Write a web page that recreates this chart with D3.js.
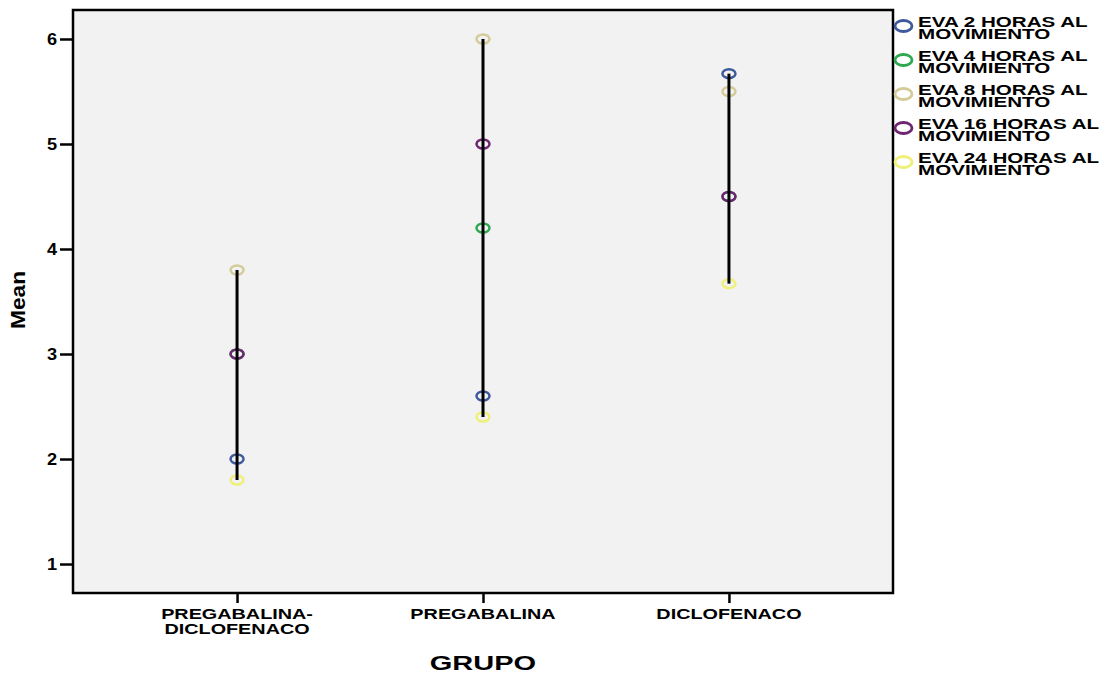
<!DOCTYPE html>
<html>
<head>
<meta charset="utf-8">
<script src="https://cdn.jsdelivr.net/npm/d3@7"></script>
<style>
  body { margin: 0; background: #fff; }
  text { font-family: "Liberation Sans", Arial, sans-serif; font-weight: bold; fill: #000; }
</style>
</head>
<body>
<svg id="chart" width="1114" height="677"></svg>
<script>
// groups on the x axis (label lines)
const categories = ['PREGABALINA-DICLOFENACO', 'PREGABALINA', 'DICLOFENACO']
const categoryLines = [['PREGABALINA-', 'DICLOFENACO'], ['PREGABALINA'], ['DICLOFENACO']]

// series (means per group)
const seriesNames = ['EVA 2 HORAS AL MOVIMIENTO', 'EVA 4 HORAS AL MOVIMIENTO', 'EVA 8 HORAS AL MOVIMIENTO', 'EVA 16 HORAS AL MOVIMIENTO', 'EVA 24 HORAS AL MOVIMIENTO']
const eva2 = [2.0, 2.6, 5.67]
const eva4 = [3.0, 4.2, 4.5]
const eva8 = [3.8, 6.0, 5.5]
const eva16 = [3.0, 5.0, 4.5]
const eva24 = [1.8, 2.4, 3.67]
const seriesColors = ['#3d5a9c', '#2fa84f', '#d3cb98', '#6e2673', '#eef078']

const yTicks = [1, 2, 3, 4, 5, 6]

const allSeries = [eva2, eva4, eva8, eva16, eva24]

const svg = d3.select('#chart')
const plotLeft = 73, plotRight = 893, plotTop = 10, plotBottom = 593

const x = d3.scalePoint().domain(categories).range([plotLeft, plotRight]).padding(0.667)
const y = d3.scaleLinear().domain([0.724, 6.276]).range([plotBottom, plotTop])

// stretch text horizontally (reference type is wide)
function stretch(sel, k) {
  sel.each(function() {
    const w = this.getComputedTextLength()
    d3.select(this).attr('textLength', w * k).attr('lengthAdjust', 'spacingAndGlyphs')
  })
}

// plot background
svg.append('rect')
  .attr('x', plotLeft).attr('y', plotTop)
  .attr('width', plotRight - plotLeft).attr('height', plotBottom - plotTop)
  .attr('fill', '#f2f2f2')

// y axis
const yAxis = svg.append('g')
  .attr('transform', `translate(${plotLeft},0)`)
  .call(d3.axisLeft(y).tickValues(yTicks).tickSize(13).tickPadding(3).tickFormat(d3.format('d')))
yAxis.select('.domain').remove()
yAxis.selectAll('.tick line').attr('stroke', '#000').attr('stroke-width', 2.5)
yAxis.selectAll('.tick text').attr('font-size', 16.5).attr('font-family', null).attr('dy', '0.36em')
stretch(yAxis.selectAll('.tick text'), 1.1)

// x axis
const xAxis = svg.append('g')
  .attr('transform', `translate(0,${plotBottom})`)
  .call(d3.axisBottom(x).tickSize(10).tickFormat(''))
xAxis.select('.domain').remove()
xAxis.selectAll('.tick line').attr('stroke', '#000').attr('stroke-width', 2.5)

categories.forEach((c, i) => {
  categoryLines[i].forEach((line, j) => {
    svg.append('text')
      .attr('x', x(c)).attr('y', 619 + j * 15)
      .attr('text-anchor', 'middle')
      .attr('font-size', 15)
      .text(line)
      .call(stretch, 1.32)
  })
})

// markers
allSeries.forEach((vals, s) => {
  svg.append('g').selectAll('ellipse')
    .data(vals)
    .join('ellipse')
    .attr('cx', (d, i) => x(categories[i]))
    .attr('cy', d => y(d))
    .attr('rx', 6.5).attr('ry', 4.5)
    .attr('fill', 'none')
    .attr('stroke', seriesColors[s])
    .attr('stroke-width', 2.5)
})

// high-low lines
categories.forEach((c, i) => {
  const vals = allSeries.map(s => s[i])
  svg.append('line')
    .attr('x1', x(c)).attr('x2', x(c))
    .attr('y1', y(d3.max(vals))).attr('y2', y(d3.min(vals)))
    .attr('stroke', '#000').attr('stroke-width', 3)
})

// frame
svg.append('rect')
  .attr('x', plotLeft).attr('y', plotTop)
  .attr('width', plotRight - plotLeft).attr('height', plotBottom - plotTop)
  .attr('fill', 'none').attr('stroke', '#000').attr('stroke-width', 2.5)

// axis titles
svg.append('text')
  .attr('x', x(categories[1])).attr('y', 670)
  .attr('text-anchor', 'middle')
  .attr('font-size', 20)
  .text('GRUPO')
  .call(stretch, 1.45)

svg.append('text')
  .attr('transform', 'translate(25,300) rotate(-90)')
  .attr('text-anchor', 'middle')
  .attr('font-size', 21)
  .text('Mean')
  .call(stretch, 1.08)

// legend
const legend = svg.append('g')
seriesNames.forEach((name, i) => {
  const ly = 26 + i * 34
  legend.append('ellipse')
    .attr('cx', 903.5).attr('cy', ly)
    .attr('rx', 8.5).attr('ry', 5.5)
    .attr('fill', 'none')
    .attr('stroke', seriesColors[i])
    .attr('stroke-width', 2.8)
  const parts = [name.replace(' MOVIMIENTO', ''), 'MOVIMIENTO']
  parts.forEach((p, j) => {
    legend.append('text')
      .attr('x', 918).attr('y', ly + 1 + j * 12)
      .attr('font-size', 14.5)
      .text(p)
      .call(stretch, 1.42)
  })
})
</script>
</body>
</html>
